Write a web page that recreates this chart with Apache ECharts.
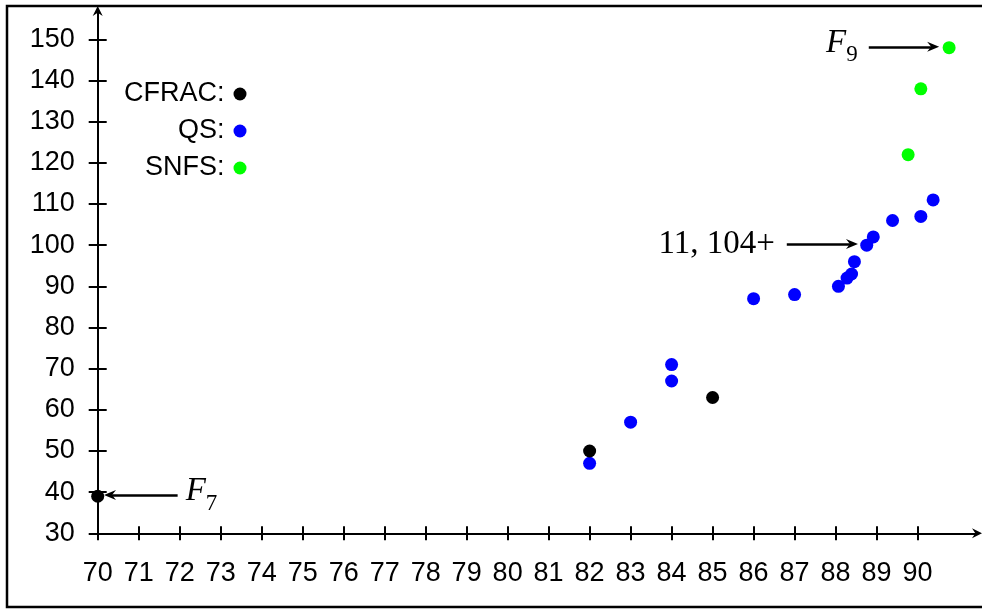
<!DOCTYPE html>
<html><head><meta charset="utf-8">
<script src="https://cdn.jsdelivr.net/npm/echarts@6/dist/echarts.min.js"></script>
<style>html,body{margin:0;padding:0;background:#fff}#chart{width:982px;height:609px}</style>
</head><body><div id="chart"></div>
<script>
// ---- data ----
const xTicks = [70,71,72,73,74,75,76,77,78,79,80,81,82,83,84,85,86,87,88,89,90];
const yTicks = [30,40,50,60,70,80,90,100,110,120,130,140,150];
const seriesNames = ['CFRAC', 'QS', 'SNFS'];
const cfracData = [[70,39],[82,50],[85,63]];
const qsData = [[82,47],[83,57],[84,67],[84,71],[86,87],[87,88],[88.07,90],[88.28,92],[88.39,93],[88.46,96],[88.76,100],[88.92,102],[89.39,106],[90.08,107],[90.38,111]];
const snfsData = [[89.77,122],[90.08,138],[90.77,148]];
// annotation arrows: [from, to] in data space + label
const annF7 = {from:[71.95,39.3], to:[70.30,39.3], text:'{f|F}{s|7}'};
const annQS = {from:[86.81,100.3], to:[88.40,100.3], text:'{n|11, 104+}'};
const annF9 = {from:[88.81,148.2], to:[90.38,148.2], text:'{f|F}{s|9}'};

const colors = {CFRAC:'#000000', QS:'#0000ff', SNFS:'#00ff00'};
const arrowPath = 'path://M0,0 L6,12 L0,8 L-6,12 Z';
const sans = '"Liberation Sans", Arial, Helvetica, sans-serif';
const serif = '"Liberation Serif", "Times New Roman", serif';
const FS = 27;

const chart = echarts.init(document.getElementById('chart'), null, {renderer:'canvas'});

const richLabel = {
  f: {fontFamily: serif, fontStyle:'italic', fontSize:33, lineHeight:40, verticalAlign:'top', color:'#000'},
  s: {fontFamily: serif, fontSize:23, lineHeight:22, verticalAlign:'bottom', color:'#000'},
  n: {fontFamily: serif, fontSize:33, lineHeight:40, color:'#000'}
};

function annLine(a, dist) {
  return [
    {coord: a.from, label: {show:true, position:'start', formatter: a.text, rich: richLabel, distance: dist}},
    {coord: a.to}
  ];
}

const axisLineStyle = {color:'#000', width:2};

const option = {
  animation: false,
  backgroundColor: '#fff',
  grid: {left: 97.7, top: 11, right: 982 - 977, bottom: 609 - 533.3, containLabel: false},
  legend: {
    data: seriesNames,
    orient: 'vertical',
    align: 'right',
    left: 124,
    top: 80.5,
    padding: 0,
    itemGap: 10,
    itemWidth: 13,
    itemHeight: 13,
    icon: 'circle',
    formatter: '{name}:',
    textStyle: {fontFamily: sans, fontSize: FS, color:'#000', padding:[0,4,0,0]}
  },
  xAxis: [{
    type:'value', min:70, max:91.45, interval:1,
    axisLine: {show:true, onZero:false, lineStyle: axisLineStyle, symbol:['none', arrowPath], symbolSize:[10,12]},
    axisTick: {show:true, inside:false, length:7, lineStyle:{color:'#000', width:2}, customValues: xTicks},
    axisLabel: {show:true, margin:27, fontFamily:sans, fontSize:FS, color:'#000', customValues: xTicks},
    splitLine: {show:false}
  },{
    type:'value', min:70, max:91.45, interval:1, position:'bottom',
    axisLine: {show:false},
    axisTick: {show:true, inside:true, length:7, lineStyle:{color:'#000', width:2}, customValues: xTicks},
    axisLabel: {show:false},
    splitLine: {show:false}
  }],
  yAxis: [{
    type:'value', min:30, max:156.9, interval:10,
    axisLine: {show:true, onZero:false, lineStyle: axisLineStyle, symbol:['none', arrowPath], symbolSize:[10,12]},
    axisTick: {show:true, inside:false, length:9, lineStyle:{color:'#000', width:2}, customValues: yTicks},
    axisLabel: {show:true, margin:23, fontFamily:sans, fontSize:FS, color:'#000', customValues: yTicks},
    splitLine: {show:false}
  },{
    type:'value', min:30, max:156.9, interval:10, position:'left',
    axisLine: {show:false},
    axisTick: {show:true, inside:true, length:9, lineStyle:{color:'#000', width:2}, customValues: yTicks},
    axisLabel: {show:false},
    splitLine: {show:false}
  }],
  series: [
    {name:'SNFS', type:'scatter', data:snfsData, symbolSize:13, clip:false, itemStyle:{color:colors.SNFS, opacity:1}, z:3},
    {name:'QS', type:'scatter', data:qsData, symbolSize:13, clip:false, itemStyle:{color:colors.QS, opacity:1}, z:3},
    {name:'CFRAC', type:'scatter', data:cfracData, symbolSize:13, clip:false, itemStyle:{color:colors.CFRAC, opacity:1}, z:4},
    {name:'annotations', type:'scatter', data:[], silent:true,
     markLine: {
       silent:true, animation:false,
       symbol:['none', arrowPath], symbolSize:[10,12],
       lineStyle:{color:'#000', width:2.5, type:'solid'},
       emphasis:{disabled:true},
       data: [annLine(annF7, 8), annLine(annQS, 12), annLine(annF9, 11)]
     }}
  ],
  graphic: [{
    type:'rect', silent:true, z:100,
    shape:{x:7, y:6, width:990, height:601},
    style:{fill:null, stroke:'#000', lineWidth:2.5}
  }]
};
chart.setOption(option);
</script>
</body></html>
